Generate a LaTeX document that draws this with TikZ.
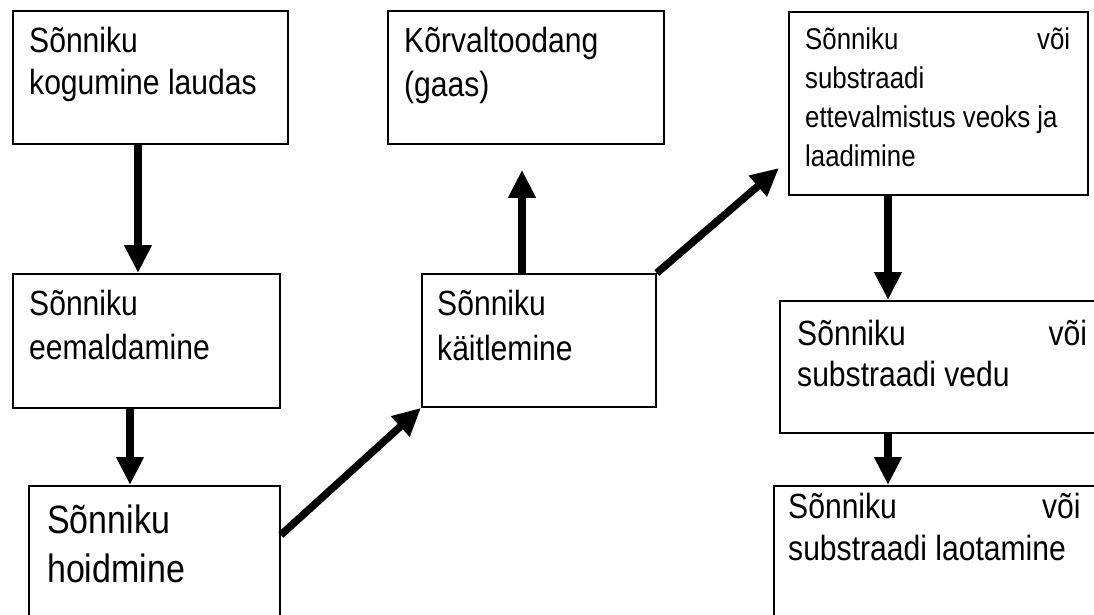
\documentclass[tikz,border=0pt]{standalone}
\usepackage{fontspec}
\usepackage{graphicx}
\setmainfont{Liberation Sans}
\usetikzlibrary{arrows.meta,calc}
\newcommand{\boxtext}[3]{\scalebox{0.86}[1]{\parbox[t]{#1}{\raggedright#2 #3\par}}}
\begin{document}
\begin{tikzpicture}[x=1pt,y=-1pt,
  box/.style={draw=black, line width=1.8pt, rectangle, anchor=north west, inner sep=0pt},
  txt/.style={anchor=base west, inner sep=0pt},
  flow/.style={line width=7.5pt, -{Triangle[length=28pt,width=26pt]}}]
\useasboundingbox (0,0) rectangle (1094,615);
\clip (0,0) rectangle (1094,615);
% boxes
\node[box, minimum width=275pt, minimum height=133pt] (b1) at (12,10) {};
\node[box, minimum width=267pt, minimum height=134pt] (b2) at (12,273) {};
\node[box, minimum width=251pt, minimum height=170pt] (b3) at (28,485) {};
\node[box, minimum width=276pt, minimum height=133pt] (b4) at (387,10) {};
\node[box, minimum width=234pt, minimum height=133pt] (b5) at (421,273) {};
\node[box, minimum width=299pt, minimum height=183pt] (b6) at (788,11) {};
\node[box, minimum width=340pt, minimum height=132pt] (b7) at (779,300) {};
\node[box, minimum width=350pt, minimum height=170pt] (b8) at (773,485) {};
% texts
\node[txt] (t1) at ($(b1.north west)+(17,43)$) {\boxtext{300pt}{\fontsize{35}{42}\selectfont}{Sõnniku\\kogumine laudas}};
\node[txt] (t2) at ($(b2.north west)+(17,42)$) {\boxtext{300pt}{\fontsize{35}{44}\selectfont}{Sõnniku\\eemaldamine}};
\node[txt] (t3) at ($(b3.north west)+(19,48)$) {\boxtext{300pt}{\fontsize{39.5}{49}\selectfont}{Sõnniku\\hoidmine}};
\node[txt] (t4) at ($(b4.north west)+(17,43)$) {\boxtext{300pt}{\fontsize{35}{44}\selectfont}{Kõrvaltoodang\\(gaas)}};
\node[txt] (t5) at ($(b5.north west)+(16,42)$) {\boxtext{250pt}{\fontsize{35}{45}\selectfont}{Sõnniku\\käitlemine}};
\node[txt] (t6) at ($(b6.north west)+(17,39)$) {\boxtext{308pt}{\fontsize{30}{39}\selectfont}{Sõnniku\hfill või\\substraadi\\ettevalmistus veoks ja\\laadimine}};
\node[txt] (t7) at ($(b7.north west)+(18,45)$) {\boxtext{337pt}{\fontsize{35}{41}\selectfont}{Sõnniku\hfill või\\substraadi vedu}};
\node[txt] (t8) at ($(b8.north west)+(15,33)$) {\boxtext{340pt}{\fontsize{35}{42}\selectfont}{Sõnniku\hfill või\\substraadi laotamine}};
% helper x positions
\coordinate (x1) at (138,0);
\coordinate (x2) at (130,0);
\coordinate (x3) at (522,0);
\coordinate (x6) at (888,0);
\coordinate (a3end) at ($(x3 |- b4.south)+(0,25)$);
\coordinate (a4start) at ($(b3.north east)+(0,50)$);
\coordinate (a5end) at ($(b6.north west)+(-9,157)$);
% arrows
\draw[flow] (x1 |- b1.south) -- (x1 |- b2.north);
\draw[flow] (x2 |- b2.south) -- (x2 |- b3.north);
\draw[flow] (x3 |- b5.north) -- (a3end);
\draw[flow] (a4start) -- (b5.south west);
\draw[flow] (b5.north east) -- (a5end);
\draw[flow] (x6 |- b6.south) -- (x6 |- b7.north);
\draw[flow] (x6 |- b7.south) -- (x6 |- b8.north);
\end{tikzpicture}
\end{document}
